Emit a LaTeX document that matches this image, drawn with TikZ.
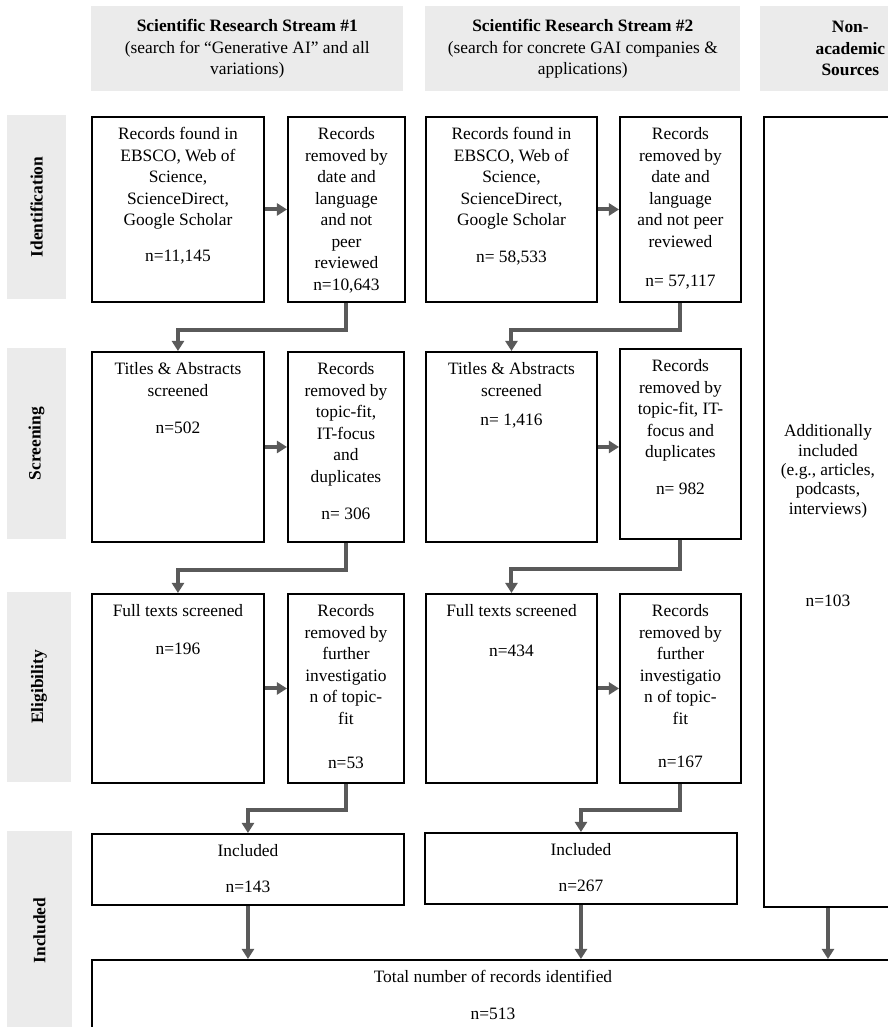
\documentclass[tikz,border=0pt]{standalone}
\usepackage{fontspec}
\setmainfont{Liberation Serif}
\usetikzlibrary{arrows.meta}
\definecolor{hdrgray}{HTML}{EBEBEB}
\definecolor{arrgray}{HTML}{5A5A5A}
\newlength{\px}\setlength{\px}{0.02cm}
% framed text, set from the top of its box
\newcommand{\boxtext}[4][8]{\parbox[c][#3\px][t]{#2\px}{\centering\vspace*{#1\px}\strut #4}}

\begin{document}
\begin{tikzpicture}[x=0.02cm,y=-0.02cm,
  font=\fontsize{9.9}{12.2}\selectfont,
  flowbox/.style={draw,line width=1.1pt,inner sep=0pt,anchor=north west},
  headbox/.style={fill=hdrgray,inner sep=0pt,anchor=north west,align=center,minimum height=1.7cm},
  sidebox/.style={fill=hdrgray,inner sep=0pt,rotate=90,font=\bfseries\fontsize{9.9}{12.2}\selectfont},
  flow/.style={draw=arrgray,line width=2.3pt,-{Triangle[width=6.8pt,length=5.7pt]}}]
  \useasboundingbox (0,0) rectangle (888,1027);

  % column heads
  \node[headbox,minimum width=6.24cm] (h1) at (91,6) {\textbf{Scientific Research Stream \#1}\\(search for “Generative AI” and all\\variations)};
  \node[headbox,minimum width=6.3cm] (h2) at (425,6) {\textbf{Scientific Research Stream \#2}\\(search for concrete GAI companies \&\\applications)};
  \node[headbox,minimum width=3.6cm] (h3) at (760,6) {\textbf{Non-}\\\textbf{academic}\\\textbf{Sources}};

  % row heads
  \node[sidebox,minimum width=3.68cm,minimum height=1.18cm] (s1) at (36.5,207) {Identification};
  \node[sidebox,minimum width=3.82cm,minimum height=1.18cm] (s2) at (36.5,443.5) {Screening};
  \node[sidebox,minimum width=3.8cm,minimum height=1.28cm] (s3) at (39,687) {Eligibility};
  \node[sidebox,minimum width=3.98cm,minimum height=1.3cm] (s4) at (39.5,930.5) {Included};

  % stream 1
  \node[flowbox] (a1) at (91,116) {\boxtext{172}{185}{Records found in\\EBSCO, Web of\\Science,\\ScienceDirect,\\Google Scholar\\[14.5\px]n=11,145}};
  \node[flowbox] (b1) at (287,116) {\boxtext{117}{185}{Records\\removed by\\date and\\language\\and not\\peer\\reviewed\\n=10,643}};
  \node[flowbox] (a2) at (91,351) {\boxtext{172}{190}{Titles \& Abstracts\\screened\\[15.5\px]n=502}};
  \node[flowbox] (b2) at (287,351) {\boxtext{116}{190}{Records\\removed by\\topic-fit,\\IT-focus\\and\\duplicates\\[15.5\px]n= 306}};
  \node[flowbox] (a3) at (91,593) {\boxtext{172}{189}{Full texts screened\\[16.5\px]n=196}};
  \node[flowbox] (b3) at (287,593) {\boxtext{116}{189}{Records\\removed by\\further\\investigatio\\n of topic-\\fit\\[22.5\px]n=53}};
  \node[flowbox] (i1) at (91,833) {\boxtext{312}{71}{Included\\[14.5\px]n=143}};

  % stream 2
  \node[flowbox] (c1) at (425,116) {\boxtext{171}{185}{Records found in\\EBSCO, Web of\\Science,\\ScienceDirect,\\Google Scholar\\[15.5\px]n= 58,533}};
  \node[flowbox] (d1) at (619,116) {\boxtext{121}{185}{Records\\removed by\\date and\\language\\and not peer\\reviewed\\[17.5\px]n= 57,117}};
  \node[flowbox] (c2) at (425,351) {\boxtext{171}{190}{Titles \& Abstracts\\screened\\[7.5\px]n= 1,416}};
  \node[flowbox] (d2) at (619,348) {\boxtext{121}{190}{Records\\removed by\\topic-fit, IT-\\focus and\\duplicates\\[15.5\px]n= 982}};
  \node[flowbox] (c3) at (425,593) {\boxtext{171}{189}{Full texts screened\\[18.5\px]n=434}};
  \node[flowbox] (d3) at (619,593) {\boxtext{121}{189}{Records\\removed by\\further\\investigatio\\n of topic-\\fit\\[21.5\px]n=167}};
  \node[flowbox] (i2) at (424,832) {\boxtext{312}{71}{Included\\[14.5\px]n=267}};

  % non-academic and total
  \node[flowbox] (n1) at (763,116) {\boxtext[305]{128}{790}{\fontsize{9.9}{11}\selectfont Additionally\\included\\(e.g., articles,\\podcasts,\\interviews)\\[72.5\px]n=103}};
  \node[flowbox] (tot) at (91,959) {\boxtext{802}{100}{Total number of records identified\\[15.5\px]n=513}};

  \draw[flow] (a1) -- (b1);
  \draw[flow] (a2) -- (b2);
  \draw[flow] (a3) -- (b3);
  \draw[flow] (c1) -- (d1);
  \draw[flow] (c2.east) -- (c2.east -| d2.west);
  \draw[flow] (c3) -- (d3);
  \draw[flow] (b1.south) -- ++(0,27) -| (a2.north);
  \draw[flow] (b2.south) -- ++(0,27) -| (a3.north);
  \draw[flow] (b3.south) -- ++(0,26) -| (i1.north);
  \draw[flow] (d1.south) -- ++(0,27) -| (c2.north);
  \draw[flow] (d2.south) -- ++(0,29) -| (c3.north);
  \draw[flow] (d3.south) -- ++(0,26) -| (i2.north);
  \draw[flow] (i1.south) -- (i1.south |- tot.north);
  \draw[flow] (i2.south) -- (i2.south |- tot.north);
  \draw[flow] (n1.south) -- (n1.south |- tot.north);
\end{tikzpicture}
\end{document}
